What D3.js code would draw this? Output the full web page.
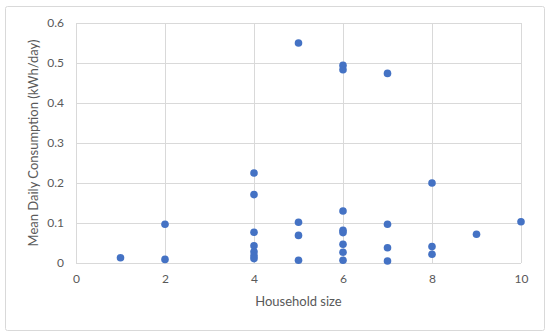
<!DOCTYPE html>
<head>
  <meta charset="utf-8" />
  <script src="https://d3js.org/d3.v7.min.js"></script>
  <style>
    body { margin: 0; background: #fff; }
    svg { font-family: Lato, "Open Sans", sans-serif; }
  </style>
</head>
<body>
  <svg width="550" height="335"></svg>
  <script>
    // household size for each observation
    var householdSize = [1, 2, 2,
      4, 4, 4, 4, 4, 4, 4,
      5, 5, 5, 5,
      6, 6, 6, 6, 6, 6, 6, 6,
      7, 7, 7, 7,
      8, 8, 8,
      9, 10];
    // mean daily consumption (kWh/day)
    var consumption = [0.013, 0.097, 0.009,
      0.225, 0.171, 0.077, 0.043, 0.028, 0.018, 0.011,
      0.55, 0.102, 0.069, 0.007,
      0.494, 0.483, 0.13, 0.082, 0.076, 0.047, 0.027, 0.007,
      0.474, 0.097, 0.038, 0.005,
      0.2, 0.041, 0.022,
      0.072, 0.103];
    var xTicks = [0, 2, 4, 6, 8, 10];
    var yTicks = [0, 0.1, 0.2, 0.3, 0.4, 0.5, 0.6];

    var svg = d3.select("svg");
    var margin = { top: 23, right: 29, bottom: 72, left: 76 };
    var width = 550 - margin.left - margin.right;
    var height = 335 - margin.top - margin.bottom;

    // chart frame
    svg.append("rect")
      .attr("x", 5.5).attr("y", 6.5)
      .attr("width", 539).attr("height", 324)
      .attr("rx", 2)
      .attr("fill", "#fff")
      .attr("stroke", "#d9d9d9");

    var g = svg.append("g")
      .attr("transform", "translate(" + margin.left + "," + margin.top + ")");

    var x = d3.scaleLinear().domain([0, 10]).range([0, width]);
    var y = d3.scaleLinear().domain([0, 0.6]).range([height, 0]);

    // gridlines
    g.append("g")
      .attr("transform", "translate(0," + height + ")")
      .call(d3.axisBottom(x).tickValues(xTicks).tickSize(-height).tickFormat(""))
      .call(function (a) { a.select(".domain").remove(); })
      .selectAll("line").attr("stroke", "#d9d9d9");
    g.append("g")
      .call(d3.axisLeft(y).tickValues(yTicks).tickSize(-width).tickFormat(""))
      .call(function (a) { a.select(".domain").remove(); })
      .selectAll("line").attr("stroke", "#d9d9d9");

    // tick labels
    var xAxis = g.append("g")
      .attr("transform", "translate(0," + height + ")")
      .call(d3.axisBottom(x).tickValues(xTicks).tickSize(0).tickPadding(11).tickFormat(d3.format("d")));
    xAxis.select(".domain").remove();
    var yAxis = g.append("g")
      .call(d3.axisLeft(y).tickValues(yTicks).tickSize(0).tickPadding(12)
        .tickFormat(function (d) { return d === 0 ? "0" : d3.format(".1f")(d); }));
    yAxis.select(".domain").remove();
    svg.selectAll(".tick text")
      .attr("fill", "#595959")
      .style("font-size", "12px")
      .style("font-family", "Lato, 'Open Sans', sans-serif");

    // points
    g.selectAll("circle")
      .data(householdSize)
      .enter()
      .append("circle")
      .attr("cx", function (d) { return x(d); })
      .attr("cy", function (d, i) { return y(consumption[i]); })
      .attr("r", 3.8)
      .attr("fill", "#4472c4");

    // axis titles
    svg.append("text")
      .attr("x", margin.left + width / 2)
      .attr("y", 306)
      .attr("text-anchor", "middle")
      .attr("fill", "#595959")
      .style("font-size", "13px")
      .text("Household size");
    svg.append("text")
      .attr("transform", "translate(38," + (margin.top + height / 2) + ") rotate(-90)")
      .attr("text-anchor", "middle")
      .attr("fill", "#595959")
      .style("font-size", "13px")
      .text("Mean Daily Consumption (kWh/day)");
  </script>
</body>
